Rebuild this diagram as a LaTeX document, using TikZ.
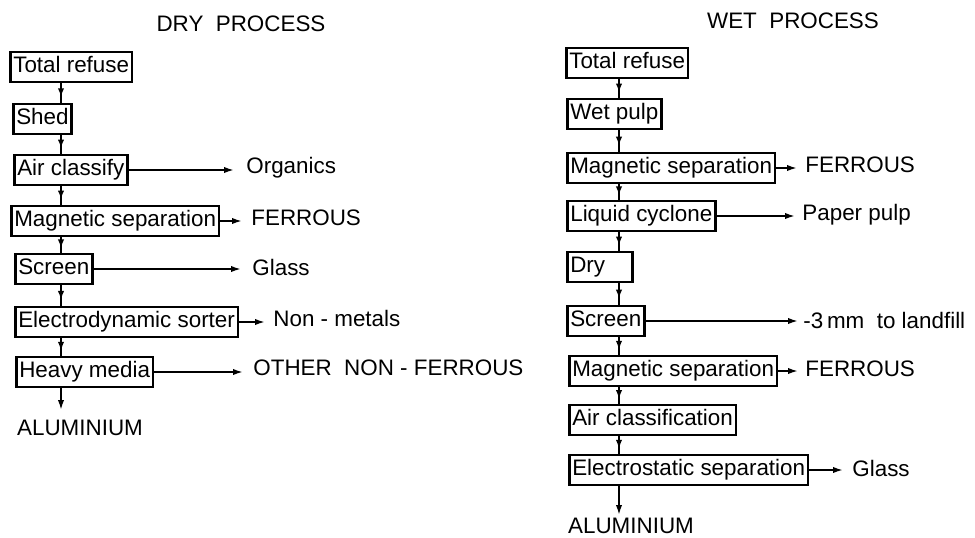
\documentclass[tikz,border=0pt]{standalone}
\usepackage{fontspec}
\setmainfont{Liberation Sans}
\usetikzlibrary{arrows.meta,decorations.markings}
\begin{document}
\begin{tikzpicture}[x=0.5pt,y=-0.5pt,
 box/.style={draw,line width=1.3pt,anchor=west,inner xsep=1.5pt,inner ysep=0pt,minimum height=15pt,text height=8.3pt,text depth=2.5pt,font=\fontsize{11.2}{12}\selectfont},
 lbl/.style={anchor=west,inner sep=0pt,font=\fontsize{11.2}{12}\selectfont},
 ttl/.style={inner sep=0pt,font=\fontsize{11.2}{12}\selectfont},
 flow/.style={line width=0.9pt,postaction={decorate},decoration={markings,mark=at position 0.72 with {\arrow{Latex[length=4.5pt,width=3.2pt]}}}},
 outarrow/.style={line width=0.9pt,-{Latex[length=5pt,width=3.2pt]}}]
\path[use as bounding box] (0,0) rectangle (975,537);

% ---------- DRY PROCESS ----------
\node[ttl] (dt) at (241,24) {DRY\ \ PROCESS};
\coordinate (dx) at (61,0);
\node[box] (d1) at (9,67) {Total refuse};
\node[box] (d2) at (12,119) {Shed};
\node[box] (d3) at (13,170) {Air classify};
\node[box] (d4) at (10,221) {Magnetic separation};
\node[box] (d5) at (14,269) {Screen};
\node[box] (d6) at (14,322) {Electrodynamic sorter};
\node[box] (d7) at (15,372) {Heavy media};
\node[ttl] (dal) at (80,428) {ALUMINIUM};
\coordinate (dend) at (61,410);

\draw[flow] (d1.south -| dx) -- (d2.north -| dx);
\draw[flow] (d2.south -| dx) -- (d3.north -| dx);
\draw[flow] (d3.south -| dx) -- (d4.north -| dx);
\draw[flow] (d4.south -| dx) -- (d5.north -| dx);
\draw[flow] (d5.south -| dx) -- (d6.north -| dx);
\draw[flow] (d6.south -| dx) -- (d7.north -| dx);
\draw[outarrow] (d7.south -| dx) -- (dend);

\node[lbl] (o1) at (246,168) {Organics};
\node[lbl] (o2) at (251,218) {FERROUS};
\node[lbl] (o3) at (252,267) {Glass};
\node[lbl] (o4) at (273,318) {Non - metals};
\node[lbl] (o5) at (253,368) {OTHER\ \ NON - FERROUS};
\coordinate (e1) at (234,170);
\coordinate (e2) at (242,221);
\coordinate (e3) at (241,269);
\coordinate (e4) at (265,322);
\coordinate (e5) at (243,372);
\draw[outarrow] (d3.east) -- (e1);
\draw[outarrow] (d4.east) -- (e2);
\draw[outarrow] (d5.east) -- (e3);
\draw[outarrow] (d6.east) -- (e4);
\draw[outarrow] (d7.east) -- (e5);

% ---------- WET PROCESS ----------
\node[ttl] (wt) at (793,21) {WET\ \ PROCESS};
\coordinate (wx) at (619,0);
\node[box] (w1) at (565,63) {Total refuse};
\node[box] (w2) at (566,114) {Wet pulp};
\node[box] (w3) at (566,168) {Magnetic separation};
\node[box] (w4) at (566,216) {Liquid cyclone};
\node[box,minimum width=28.5pt,align=left] (w5) at (566,267) {Dry\hspace{1.1em}};
\node[box] (w6) at (566,321) {Screen};
\node[box] (w7) at (568,371) {Magnetic separation};
\node[box] (w8) at (568,420) {Air classification};
\node[box] (w9) at (568,470) {Electrostatic separation};
\node[ttl] (wal) at (631,526) {ALUMINIUM};
\coordinate (wend) at (619,515);

\draw[flow] (w1.south -| wx) -- (w2.north -| wx);
\draw[flow] (w2.south -| wx) -- (w3.north -| wx);
\draw[flow] (w3.south -| wx) -- (w4.north -| wx);
\draw[flow] (w4.south -| wx) -- (w5.north -| wx);
\draw[flow] (w5.south -| wx) -- (w6.north -| wx);
\draw[flow] (w6.south -| wx) -- (w7.north -| wx);
\draw[flow] (w7.south -| wx) -- (w8.north -| wx);
\draw[flow] (w8.south -| wx) -- (w9.north -| wx);
\draw[outarrow] (w9.south -| wx) -- (wend);

\node[lbl] (p1) at (805,165) {FERROUS};
\node[lbl] (p2) at (802,215) {Paper pulp};
\node[lbl] (p3) at (803,320) {-3\,mm\ \ to landfill};
\node[lbl] (p4) at (805,369) {FERROUS};
\node[lbl] (p5) at (852,468) {Glass};
\coordinate (f1) at (797,168);
\coordinate (f2) at (795,216);
\coordinate (f3) at (798,321);
\coordinate (f4) at (798,371);
\coordinate (f5) at (843,470);
\draw[outarrow] (w3.east) -- (f1);
\draw[outarrow] (w4.east) -- (f2);
\draw[outarrow] (w6.east) -- (f3);
\draw[outarrow] (w7.east) -- (f4);
\draw[outarrow] (w9.east) -- (f5);
\end{tikzpicture}
\end{document}
